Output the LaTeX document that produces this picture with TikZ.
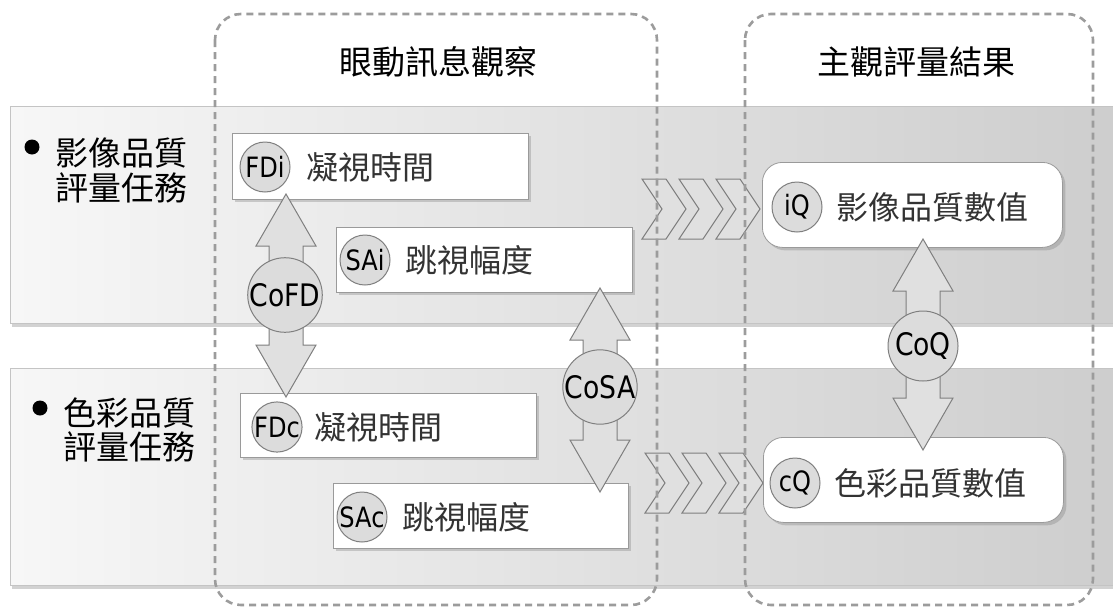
\documentclass[tikz,border=0pt]{standalone}
\usepackage{fontspec}
\newfontfamily\cjk{Noto Sans CJK TC}
\newfontfamily\lat[FakeStretch=0.86]{DejaVu Sans}
\usetikzlibrary{calc,shadows}
\definecolor{dashgray}{HTML}{9C9C9C}
\definecolor{edgegray}{HTML}{9A9A9A}
\definecolor{arrowfill}{HTML}{E0E0E0}
\definecolor{arrowdraw}{HTML}{7F7F7F}
\definecolor{circfill}{HTML}{DCDCDC}
\definecolor{bandleft}{HTML}{F7F7F7}
\definecolor{bandright}{HTML}{CDCDCD}
\definecolor{bandedge}{HTML}{C4C4C4}
\newcommand\blockarrow[2]{%
  \draw[blockarr] (#1) -- ($(#1)+(30,52)$) -- ($(#1)+(17,52)$) -- ($(#2)+(17,-52)$)
    -- ($(#2)+(30,-52)$) -- (#2) -- ($(#2)+(-30,-52)$) -- ($(#2)+(-17,-52)$)
    -- ($(#1)+(-17,52)$) -- ($(#1)+(-30,52)$) -- cycle;}
\begin{document}
\begin{tikzpicture}[x=1pt,y=-1pt,
  band/.style={draw=bandedge, line width=1pt, left color=bandleft, right color=bandright,
    drop shadow={shadow xshift=2pt, shadow yshift=-4pt, opacity=0.35}},
  colbox/.style={draw=dashgray, line width=2.6pt, dash pattern=on 7pt off 5pt, rounded corners=26pt},
  head/.style={font=\cjk\fontsize{33}{40}\selectfont, inner sep=0pt},
  task/.style={font=\cjk\fontsize{33}{40}\selectfont, inner sep=0pt, anchor=west},
  lab/.style={font=\cjk\fontsize{32}{40}\selectfont, inner sep=0pt, anchor=west, text=black!80},
  wbox/.style={draw=edgegray, line width=0.8pt, fill=white, anchor=north west, inner sep=0pt,
    drop shadow={shadow xshift=3pt, shadow yshift=-3pt, opacity=0.35}},
  rbox/.style={wbox, rounded corners=20pt},
  sc/.style={circle, draw=arrowdraw, fill=circfill, line width=1pt, minimum size=50pt, inner sep=0pt,
    font=\lat\fontsize{28}{32}\selectfont},
  bc/.style={circle, draw=arrowdraw, fill=circfill, line width=1pt, minimum size=68pt, inner sep=0pt,
    font=\lat\fontsize{31}{36}\selectfont},
  blockarr/.style={draw=arrowdraw, fill=arrowfill, line width=1pt, line join=miter},
  chevron/.pic={\draw[blockarr] (0,-30) -- (24,-30) -- (44,0) -- (24,30) -- (0,30) -- (20,0) -- cycle;}
]
\useasboundingbox[fill=white] (0,0) rectangle (1113,608);

% task bands
\path[band] (10,106) rectangle (1130,323);
\path[band] (10,368) rectangle (1130,585);

% chevrons
\foreach \i in {0,1,2} {
  \pic at ($(642,209)+(37*\i,0)$) {chevron};
  \pic at ($(645,483)+(37*\i,0)$) {chevron};
}

% column frames
\draw[colbox] (215,14) rectangle (657,605);
\draw[colbox] (745,14) rectangle (1093,605);

% headings
\node[head] (h1) at (438,62) {眼動訊息觀察};
\node[head] (h2) at (916,62) {主觀評量結果};

% task labels
\fill (32,147) circle (7.5pt);
\node[task] (t1a) at (55,153) {影像品質};
\node[task] (t1b) at (55,188) {評量任務};
\fill (40,408) circle (7.5pt);
\node[task] (t2a) at (63,413) {色彩品質};
\node[task] (t2b) at (63,447) {評量任務};

% eye movement boxes
\node[wbox, minimum width=296pt, minimum height=66pt] (fdi) at (232,133) {};
\node[wbox, minimum width=296pt, minimum height=65pt] (sai) at (336,227) {};
\node[wbox, minimum width=296pt, minimum height=64pt] (fdc) at (240,393) {};
\node[wbox, minimum width=295pt, minimum height=65pt] (sac) at (333,483) {};
\node[sc] (fdiC) at (265,167) {FDi};
\node[lab] (fdiT) at (306,167) {凝視時間};
\node[sc] (saiC) at (365,260) {SAi};
\node[lab] (saiT) at (405,260) {跳視幅度};
\node[sc] (fdcC) at (277,427) {FDc};
\node[lab] (fdcT) at (314,427) {凝視時間};
\node[sc] (sacC) at (362,517) {SAc};
\node[lab] (sacT) at (402,517) {跳視幅度};

% result boxes
\node[rbox, minimum width=300pt, minimum height=85pt] (iq) at (762,162) {};
\node[rbox, minimum width=300pt, minimum height=85pt] (cq) at (763,437) {};
\node[sc] (iqC) at (797,207) {iQ};
\node[lab] (iqT) at (836,207) {影像品質數值};
\node[sc] (cqC) at (795,483) {cQ};
\node[lab] (cqT) at (834,483) {色彩品質數值};

% correlation arrows
\coordinate (cofdT) at (286,194);
\coordinate (cofdB) at (286,397);
\coordinate (cosaT) at (600,288);
\coordinate (cosaB) at (600,492);
\coordinate (coqT) at (923,239);
\coordinate (coqB) at (923,450);
\blockarrow{cofdT}{cofdB}
\blockarrow{cosaT}{cosaB}
\blockarrow{coqT}{coqB}
\node[bc, minimum size=66pt] (cofd) at (285,295) {CoFD};
\node[bc] (cosa) at (600,387) {CoSA};
\node[bc, minimum size=70pt] (coq) at (923,346) {CoQ};
\end{tikzpicture}
\end{document}
